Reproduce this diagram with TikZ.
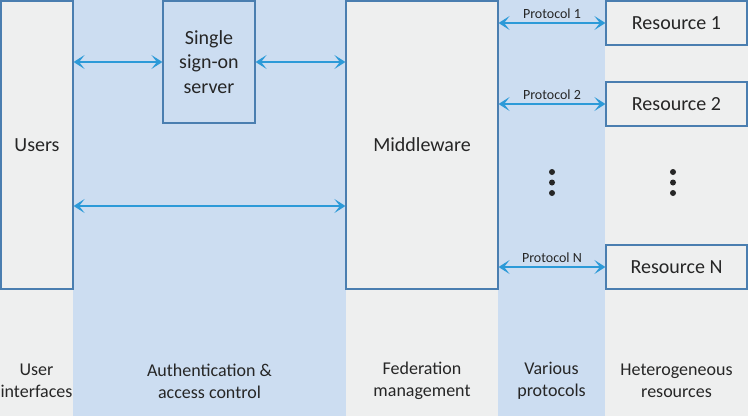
\documentclass[tikz,border=0pt]{standalone}
\usepackage{fontspec}
\setmainfont{Carlito}
\usetikzlibrary{arrows.meta}
\definecolor{bggray}{HTML}{EEEFEF}
\definecolor{colblue}{HTML}{CCDDF1}
\definecolor{edgeblue}{HTML}{4A7EB0}
\definecolor{arrowblue}{HTML}{2C9AD8}
\definecolor{textgray}{HTML}{262626}

\begin{document}
\begin{tikzpicture}[x=1pt,y=-1pt,
  box/.style={draw=edgeblue,line width=1.2pt,fill=bggray,inner sep=0pt,align=center,
    font=\fontsize{20}{24.5}\selectfont,text=textgray},
  link/.style={arrowblue,line width=2.6pt,
    {Stealth[length=11pt,width=14pt,inset=5.5pt]}-{Stealth[length=11pt,width=14pt,inset=5.5pt]}},
  proto/.style={above,font=\fontsize{14}{16}\selectfont,text=textgray,inner sep=3pt},
  layer/.style={align=center,font=\fontsize{18}{22}\selectfont,text=textgray}]
\useasboundingbox (0,0) rectangle (748,416);
\fill[bggray] (0,0) rectangle (748,416);
\fill[colblue] (73,0) rectangle (346,416);
\fill[colblue] (498,0) rectangle (605,416);

\node[box,minimum width=72pt,minimum height=288pt] (users) at (37,145) {Users};
\node[box,fill=colblue,minimum width=92pt,minimum height=122pt] (sso) at (209,62) {Single\\sign-on\\server};
\node[box,minimum width=152pt,minimum height=288pt] (mw) at (422,145) {Middleware};
\node[box,minimum width=141pt,minimum height=44pt] (res1) at (676.5,23) {Resource 1};
\node[box,minimum width=141pt,minimum height=44pt] (res2) at (676.5,104) {Resource 2};
\node[box,minimum width=141pt,minimum height=44pt] (resN) at (676.5,267) {Resource N};

\draw[link] (users.east |- sso.west) -- (sso.west);
\draw[link] (sso.east) -- (mw.west |- sso.east);
\draw[link] (users.east |- 0,206) -- (mw.west |- 0,206);
\draw[link] (mw.east |- res1.west) -- node[proto] {Protocol 1} (res1.west);
\draw[link] (mw.east |- res2.west) -- node[proto] {Protocol 2} (res2.west);
\draw[link] (mw.east |- resN.west) -- node[proto] {Protocol N} (resN.west);

\foreach \y in {172,182.5,193}{
  \fill[textgray] (552,\y) circle (3pt);
  \fill[textgray] (673,\y) circle (3pt);
}

\node[layer] (lui) at (36.5,381) {User\\interfaces};
\node[layer] (lauth) at (209.5,381) {Authentication \&\\access control};
\node[layer] (lfed) at (422,381) {Federation\\management};
\node[layer] (lprot) at (551.5,381) {Various\\protocols};
\node[layer] (lres) at (676.5,381) {Heterogeneous\\resources};
\end{tikzpicture}
\end{document}
